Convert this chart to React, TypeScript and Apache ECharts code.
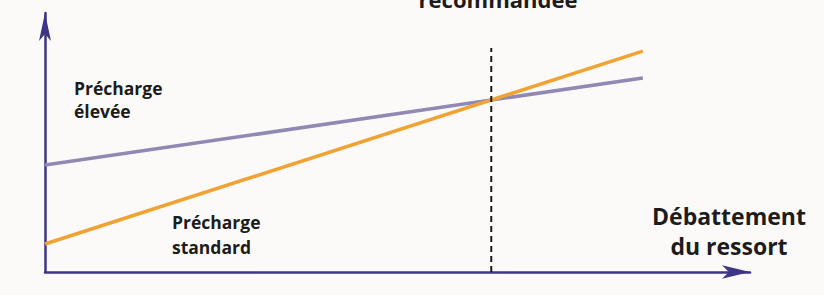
import React, { useEffect, useRef } from "react";
import * as echarts from "echarts";

const travelX = [0, 84.8];
const prechargeElevee = [41.3, 74.9];
const prechargeStandard = [10.8, 85.3];
const recommendedX = 63.3;
const recommendedTop = 86.5;

const labelElevee = ["Précharge", "élevée"];
const labelStandard = ["Précharge", "standard"];
const labelAxis = ["Débattement", "du ressort"];
const labelTop = "recommandée";

export default function App() {
  const ref = useRef<HTMLDivElement>(null);
  useEffect(() => {
    if (!ref.current) return;
    const chart = echarts.init(ref.current, null, { renderer: "svg" });
    const font = "'Open Sans', 'Noto Sans', sans-serif";
    const axisColor = "#3d3585";
    const txt = (x: number, y: number, s: string, size: number, align: string) => ({
      type: "text",
      x,
      y,
      style: {
        text: s,
        font: `bold ${size}px ${font}`,
        fill: "#1c1c1c",
        textAlign: align,
        textVerticalAlign: "middle",
      },
    });
    chart.setOption({
      animation: false,
      backgroundColor: "#fcfaf8",
      grid: { left: 45, right: 74, top: 13, bottom: 23 },
      xAxis: {
        type: "value",
        min: 0,
        max: 100,
        axisLine: {
          show: true,
          symbol: ["none", "arrow"],
          symbolSize: [10, 28],
          lineStyle: { color: axisColor, width: 2.5 },
        },
        axisTick: { show: false },
        axisLabel: { show: false },
        splitLine: { show: false },
      },
      yAxis: {
        type: "value",
        min: 0,
        max: 100,
        axisLine: {
          show: true,
          symbol: ["none", "arrow"],
          symbolSize: [9, 28],
          lineStyle: { color: axisColor, width: 2.5 },
        },
        axisTick: { show: false },
        axisLabel: { show: false },
        splitLine: { show: false },
      },
      series: [
        {
          type: "line",
          name: "Précharge élevée",
          data: travelX.map((x, i) => [x, prechargeElevee[i]]),
          symbol: "none",
          lineStyle: { color: "#9089b4", width: 3.5 },
        },
        {
          type: "line",
          name: "Précharge standard",
          data: travelX.map((x, i) => [x, prechargeStandard[i]]),
          symbol: "none",
          lineStyle: { color: "#f0a332", width: 3.5 },
        },
        {
          type: "line",
          name: "recommandée",
          data: [
            [recommendedX, 0],
            [recommendedX, recommendedTop],
          ],
          symbol: "none",
          lineStyle: { color: "#1a1a1a", width: 2, type: [6, 4] },
        },
      ],
      graphic: [
        txt(74, 88, labelElevee[0], 17.5, "left"),
        txt(74, 111, labelElevee[1], 17.5, "left"),
        txt(172, 222, labelStandard[0], 17.5, "left"),
        txt(172, 247, labelStandard[1], 17.5, "left"),
        txt(729, 216, labelAxis[0], 23, "center"),
        txt(729, 246, labelAxis[1], 23, "center"),
        txt(498, -1, labelTop, 22, "center"),
      ],
    });
    return () => chart.dispose();
  }, []);
  return (
    <div
      ref={ref}
      style={{ position: "fixed", left: 0, top: 0, width: 824, height: 295 }}
    />
  );
}
